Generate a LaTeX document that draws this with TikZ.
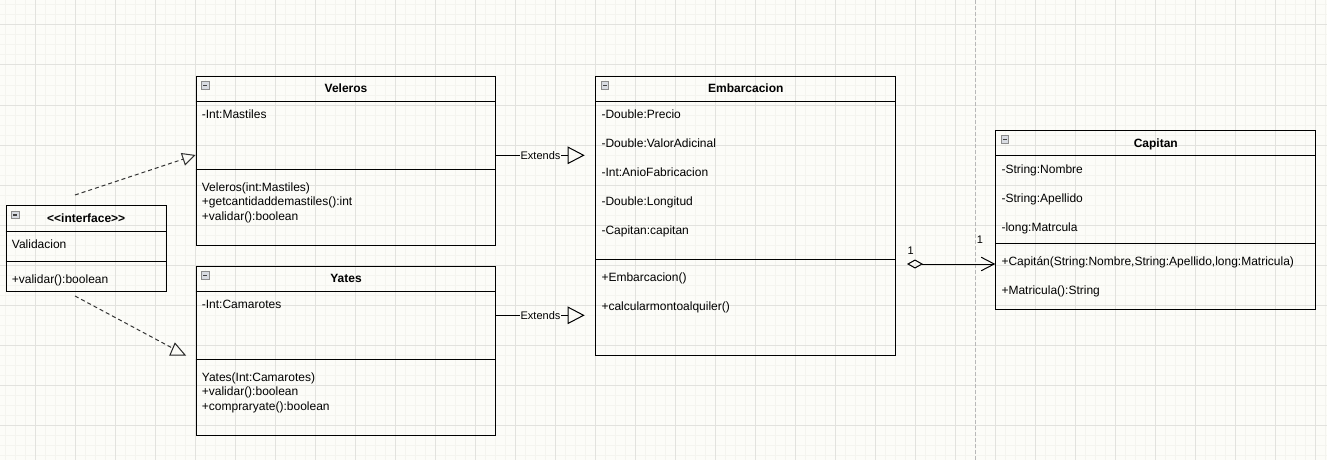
\documentclass[tikz,border=0pt]{standalone}
\usepackage{fontspec}
\setmainfont{Liberation Sans}
\usetikzlibrary{positioning,calc,arrows.meta}
\definecolor{paper}{HTML}{FCFCF8}
\definecolor{gridminor}{HTML}{F4F4EF}
\definecolor{gridmajor}{HTML}{E2E2DE}
\definecolor{iconfill}{HTML}{D9DCE2}
\newcommand{\rowfont}{\fontsize{12}{14}\selectfont}

\tikzset{
  classbox/.style={draw, line width=1pt, rectangle, inner sep=0pt, anchor=north west},
  classtitle/.style={font=\rowfont\bfseries, anchor=base, inner sep=0pt},
  classrow/.style={font=\rowfont, anchor=base west, inner sep=0pt},
  minusicon/.style={draw=black!45, fill=iconfill, line width=0.6pt, minimum size=7.5pt, inner sep=0pt,
    path picture={\draw[line width=1.2pt, black!75] ([xshift=1.6pt]path picture bounding box.west) -- ([xshift=-1.6pt]path picture bounding box.east);}},
  extends/.style={line width=1pt, -{Triangle[open, length=17pt, width=17.5pt]}},
  realize/.style={line width=1pt, black!80, dash pattern=on 4pt off 3pt, -{Triangle[open, length=13.5pt, width=13pt]}},
  aggr/.style={line width=1pt, {Diamond[open, length=16pt, width=9pt]}-{Straight Barb[length=13pt, width=13.5pt]}},
  linklabel/.style={font=\fontsize{11}{13}\selectfont, fill=paper, inner sep=0.6pt},
  mult/.style={font=\fontsize{11}{13}\selectfont, inner sep=0pt}
}

\begin{document}
\begin{tikzpicture}[x=1pt, y=-1pt]
  \useasboundingbox (0,0) rectangle (1327,460);
  % grid
  \fill[paper] (0,0) rectangle (1327,460);
  \foreach \gx in {5,15,...,1325} \draw[gridminor, line width=1pt] (\gx,0) -- (\gx,460);
  \foreach \gy in {5,15,...,455} \draw[gridminor, line width=1pt] (0,\gy) -- (1327,\gy);
  \foreach \gx in {35,75,...,1315} \draw[gridmajor, line width=1pt] (\gx,0) -- (\gx,460);
  \foreach \gy in {25,65,...,445} \draw[gridmajor, line width=1pt] (0,\gy) -- (1327,\gy);
  \draw[black!28, line width=1pt, dash pattern=on 4pt off 2pt] (975.7,0) -- (975.7,460);

  % classes
  \node[classbox, minimum width=160pt, minimum height=85.7pt] (intf) at (5.7,205.3) {};
  \node[classbox, minimum width=299.6pt, minimum height=169.3pt] (vel) at (195.7,75.7) {};
  \node[classbox, minimum width=299.6pt, minimum height=169.3pt] (yat) at (195.7,265.7) {};
  \node[classbox, minimum width=300pt, minimum height=279.3pt] (emb) at (595.3,75.7) {};
  \node[classbox, minimum width=320pt, minimum height=179.3pt] (cap) at (995.3,129.7) {};

  \foreach \c/\hh/\sp in {intf/26.4/56, vel/26/93.6, yat/26/93.6, emb/26/183.6, cap/25.6/113.6}{
    \draw[line width=1pt] ($(\c.north west)+(0,\hh)$) -- ($(\c.north east)+(0,\hh)$);
    \draw[line width=1pt] ($(\c.north west)+(0,\sp)$) -- ($(\c.north east)+(0,\sp)$);
    \node[minusicon] (\c-icon) at ($(\c.north west)+(9.6,9.6)$) {};
  }

  \node[classtitle] (intf-title) at ($(intf.north)+(0,17.3)$) {<\kern0pt<interface>\kern0pt>};
  \node[classtitle] (vel-title) at ($(vel.north)+(0,17)$) {Veleros};
  \node[classtitle] (yat-title) at ($(yat.north)+(0,17)$) {Yates};
  \node[classtitle] (emb-title) at ($(emb.north)+(0,17)$) {Embarcacion};
  \node[classtitle] (cap-title) at ($(cap.north)+(0,17.3)$) {Capitan};

  % interface rows
  \node[classrow] (intf-a1) at ($(intf.north west)+(6,43.3)$) {Validacion};
  \node[classrow] (intf-m1) at ($(intf.north west)+(6,78)$) {+validar():boolean};

  % Veleros / Yates rows
  \node[classrow] (vel-a1) at ($(vel.north west)+(6,42.8)$) {-Int:Mastiles};
  \foreach \t [count=\i] in {Veleros(int:Mastiles), +getcantidaddemastiles():int, +validar():boolean}
    \node[classrow] (vel-m\i) at ($(vel.north west)+(6,{115.3+14.5*(\i-1)})$) {\t};
  \node[classrow] (yat-a1) at ($(yat.north west)+(6,42.8)$) {-Int:Camarotes};
  \foreach \t [count=\i] in {Yates(Int:Camarotes), +validar():boolean, +compraryate():boolean}
    \node[classrow] (yat-m\i) at ($(yat.north west)+(6,{115.3+14.5*(\i-1)})$) {\t};

  % Embarcacion rows
  \foreach \t [count=\i] in {-Double:Precio, -Double:ValorAdicinal, -Int:AnioFabricacion, -Double:Longitud, -Capitan:capitan}
    \node[classrow] (emb-a\i) at ($(emb.north west)+(6,{42.8+28.9*(\i-1)})$) {\t};
  \foreach \t [count=\i] in {+Embarcacion(), +calcularmontoalquiler()}
    \node[classrow] (emb-m\i) at ($(emb.north west)+(6,{205.3+29*(\i-1)})$) {\t};

  % Capitan rows
  \foreach \t [count=\i] in {-String:Nombre, -String:Apellido, -long:Matrcula}
    \node[classrow] (cap-a\i) at ($(cap.north west)+(6,{43.6+28.9*(\i-1)})$) {\t};
  \node[classrow] (cap-m1) at ($(cap.north west)+(6,135.9)$) {+Capitán(String:Nombre,String:Apellido,long:Matricula)};
  \node[classrow] (cap-m2) at ($(cap.north west)+(6,164.6)$) {+Matricula():String};

  % connectors
  \coordinate (vel-out) at ($(vel.north east)+(0,79.6)$);
  \coordinate (yat-out) at ($(yat.north east)+(0,49.6)$);
  \coordinate (ext1-tip) at ($(emb.north west)+(-10.6,79.6)$);
  \coordinate (ext2-tip) at ($(emb.north west)+(-10.6,239.6)$);
  \draw[extends] (vel-out) -- node[linklabel, pos=0.5] (ext1-lbl) {Extends} (ext1-tip);
  \draw[extends] (yat-out) -- node[linklabel, pos=0.5] (ext2-lbl) {Extends} (ext2-tip);

  \coordinate (agg-start) at ($(emb.north east)+(10.7,188.3)$);
  \coordinate (agg-end) at ($(cap.north west)+(0,134.3)$);
  \draw[aggr] (agg-start) -- (agg-end);
  \node[mult] (mult-emb) at (910.7,251) {1};
  \node[mult] (mult-cap) at (980,239.3) {1};

  \coordinate (intf-up) at ($(intf.north west)+(69.3,-10.3)$);
  \coordinate (vel-in) at ($(vel.north west)+(0,79.3)$);
  \draw[realize] (intf-up) -- (vel-in);
  \coordinate (intf-down) at ($(intf.south west)+(69.3,4)$);
  \coordinate (yat-tri) at ($(yat.north west)+(-20.7,77.6)$);
  \draw[line width=1pt, black!80, dash pattern=on 4pt off 3pt] (intf-down) -- ($(yat-tri)+(-3.3,4.4)$);
  \draw[line width=1pt, black!85] (yat-tri) -- ++(-5,11.7) -- ++(15,0) -- cycle;
\end{tikzpicture}
\end{document}
